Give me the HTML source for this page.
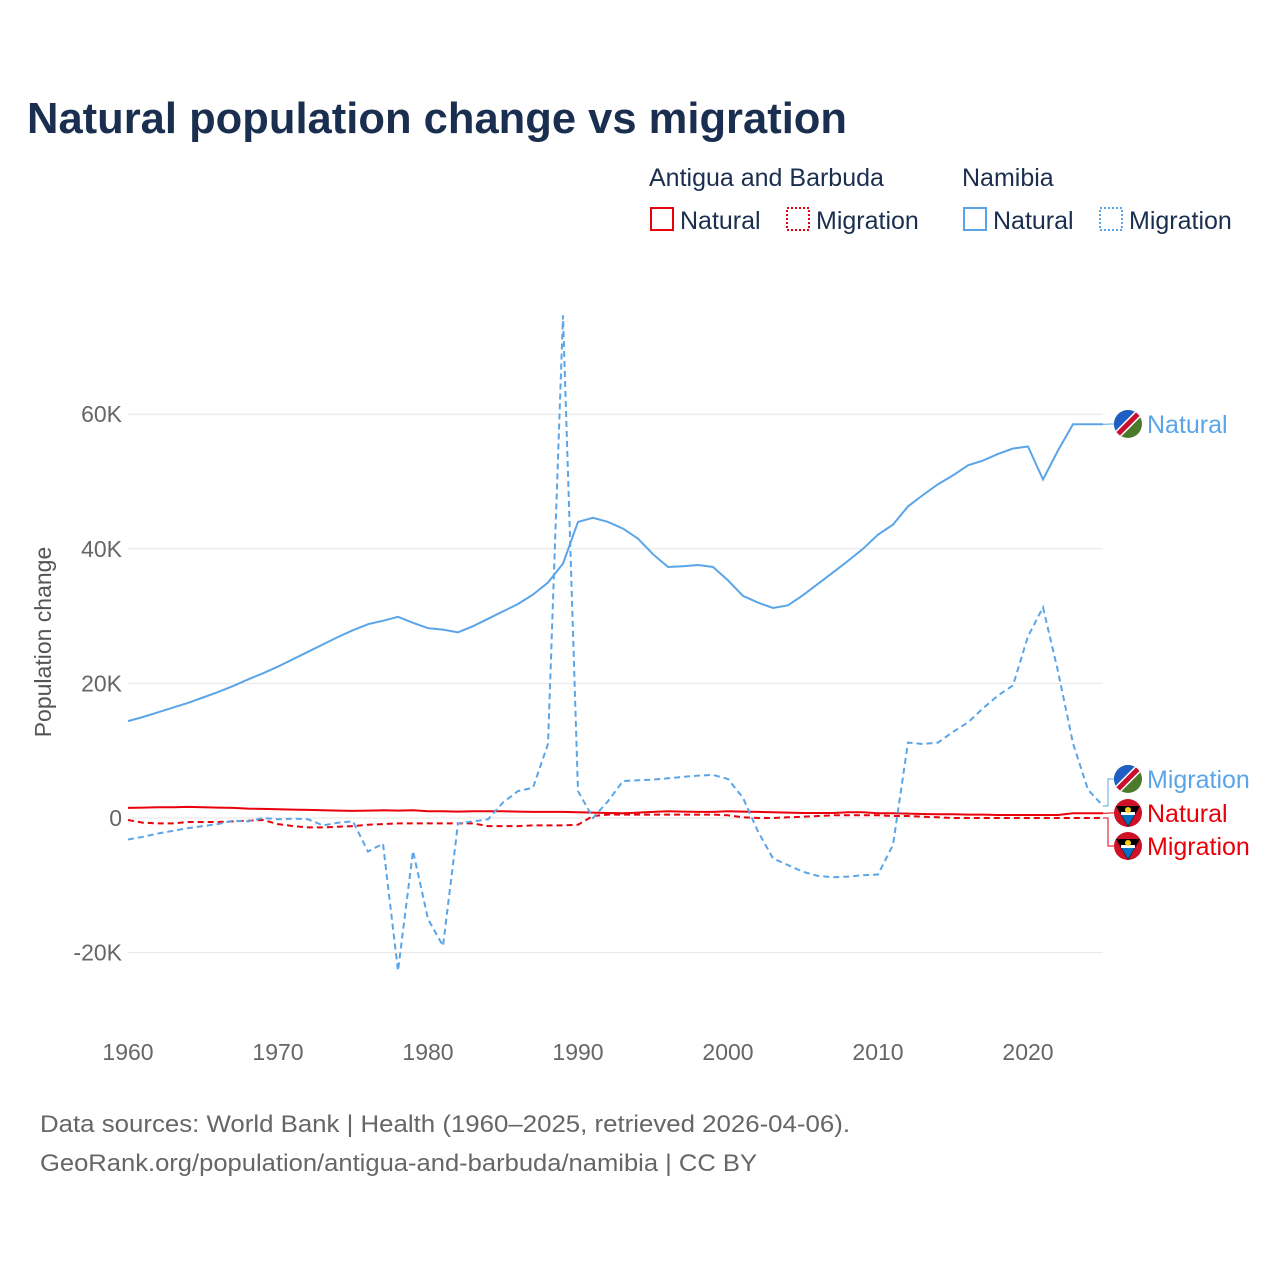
<!DOCTYPE html>
<html><head><meta charset="utf-8"><style>
body{margin:0;background:#fff;font-family:"Liberation Sans",sans-serif}
#wrap{position:relative;width:1280px;height:1280px;overflow:hidden}
</style></head><body>
<div id="wrap">
<svg id="chart" width="1280" height="1280" font-family="Liberation Sans, sans-serif">
<defs><clipPath id="fc"><circle cx="0" cy="0" r="14"/></clipPath></defs>
<text x="27" y="133" font-size="44" font-weight="bold" fill="#1a2e4f" textLength="820" lengthAdjust="spacingAndGlyphs">Natural population change vs migration</text>
<g font-size="25" fill="#1a2e4f">
<text x="649" y="186">Antigua and Barbuda</text>
<text x="962" y="186">Namibia</text>
<g><rect x="651" y="208" width="22" height="22" fill="none" stroke="#e8000b" stroke-width="2"/><text x="680" y="229">Natural</text></g>
<g><rect x="787" y="208" width="22" height="22" fill="none" stroke="#e8000b" stroke-width="2" stroke-dasharray="2,2"/><text x="816" y="229">Migration</text></g>
<g><rect x="964" y="208" width="22" height="22" fill="none" stroke="#5aa5e8" stroke-width="2"/><text x="993" y="229">Natural</text></g>
<g><rect x="1100" y="208" width="22" height="22" fill="none" stroke="#5aa5e8" stroke-width="2" stroke-dasharray="2,2"/><text x="1129" y="229">Migration</text></g>
</g>
<text transform="translate(51,642) rotate(-90)" text-anchor="middle" font-size="23" fill="#555">Population change</text>
<g id="grid"></g><g id="series"></g><g id="labels"></g>
<text x="40" y="1132" font-size="24" fill="#666" textLength="810" lengthAdjust="spacingAndGlyphs">Data sources: World Bank | Health (1960–2025, retrieved 2026-04-06).</text>
<text x="40" y="1171" font-size="24" fill="#666" textLength="717" lengthAdjust="spacingAndGlyphs">GeoRank.org/population/antigua-and-barbuda/namibia | CC BY</text>
</svg></div>
<script>
const years=[];for(let y=1960;y<=2025;y++)years.push(y);
const yTicks=[-20,0,20,40,60];
const yTickLabels=["-20K","0","20K","40K","60K"];
const xTicks=[1960,1970,1980,1990,2000,2010,2020];
const namNatural=[14.4,15,15.7,16.4,17.1,17.9,18.7,19.6,20.6,21.5,22.5,23.6,24.7,25.8,26.9,27.9,28.8,29.3,29.9,29,28.2,28,27.6,28.5,29.6,30.7,31.8,33.2,35,37.8,44,44.6,44,43,41.5,39.2,37.3,37.4,37.6,37.3,35.3,33,32,31.2,31.6,33.1,34.8,36.5,38.2,40,42.1,43.6,46.3,48,49.6,50.9,52.4,53.1,54.1,54.9,55.2,50.3,54.6,58.5,58.5,58.5];
const namMigration=[-3.2,-2.8,-2.3,-1.9,-1.5,-1.2,-0.9,-0.4,-0.5,0,-0.2,-0.1,-0.2,-1.1,-0.7,-0.5,-5,-3.8,-22.7,-4.9,-15,-19,-0.8,-0.5,-0.2,2.3,4,4.5,11,74.7,4,0,2.5,5.5,5.6,5.7,5.9,6.1,6.3,6.4,5.8,3,-2,-6,-7,-8,-8.6,-8.8,-8.7,-8.5,-8.4,-4,11.2,11,11.2,12.8,14.2,16.3,18.2,19.7,27,31.3,21.8,11.1,4.2,1.8];
const antNatural=[1.5,1.55,1.6,1.6,1.65,1.6,1.55,1.5,1.4,1.35,1.3,1.25,1.2,1.15,1.1,1.05,1.1,1.15,1.1,1.15,1,1,0.95,1,1,1,0.95,0.9,0.9,0.9,0.85,0.8,0.75,0.7,0.8,0.9,1,0.95,0.9,0.9,1,0.95,0.9,0.85,0.8,0.75,0.75,0.75,0.85,0.85,0.7,0.7,0.65,0.6,0.55,0.55,0.5,0.5,0.45,0.45,0.45,0.45,0.45,0.7,0.7,0.7];
const antMigration=[-0.3,-0.7,-0.8,-0.8,-0.6,-0.6,-0.6,-0.5,-0.4,-0.3,-0.9,-1.2,-1.4,-1.4,-1.3,-1.2,-1,-0.9,-0.8,-0.8,-0.8,-0.8,-0.8,-0.8,-1.2,-1.2,-1.2,-1.1,-1.1,-1.1,-1,0.3,0.5,0.5,0.5,0.5,0.5,0.5,0.5,0.5,0.4,0.1,0,0,0.1,0.2,0.3,0.4,0.4,0.4,0.4,0.3,0.3,0.2,0.1,0,0,0,0,0,0,0,0,0,0,0];
const NS='http://www.w3.org/2000/svg';
const X=y=>128+(y-1960)*15;
const Y=v=>818-v*6.73;
function mk(t,a,p){const e=document.createElementNS(NS,t);for(const k in a)e.setAttribute(k,a[k]);p.appendChild(e);return e;}
const grid=document.getElementById('grid');
yTicks.forEach((t,i)=>{
 const l=mk('line',{x1:128,x2:1103,y1:Y(t),y2:Y(t),stroke:'#e6e6e6','stroke-width':1},grid);
 
 
 const tx=mk('text',{x:122,y:Y(t)+8,'text-anchor':'end','font-size':23,fill:'#666'},grid);
 tx.textContent=yTickLabels[i];
 
 
});
xTicks.forEach(t=>{
 const tx=mk('text',{x:X(t),y:1060,'text-anchor':'middle','font-size':23,fill:'#666'},grid);
 tx.textContent=t;
 
 
});
const ser=document.getElementById('series');
function line(vals,color,dash,name){
 const d=vals.map((v,i)=>(i?'L':'M')+X(years[i]).toFixed(1)+','+Y(v).toFixed(1)).join('');
 const p=mk('path',{d:d,fill:'none',stroke:color,'stroke-width':2,'stroke-dasharray':dash},ser);
 
 
}
line(antMigration,'#e8000b','6,4','antigua-migration-line');
line(antNatural,'#e8000b','none','antigua-natural-line');
line(namMigration,'#5aa5e8','6,4','namibia-migration-line');
line(namNatural,'#5aa5e8','none','namibia-natural-line');
const lab=document.getElementById('labels');
function endLabel(v,ly,color,text,flag,name){
 const yEnd=Y(v);
 mk('path',{d:`M1103,${yEnd}H1108V${ly}H1114`,fill:'none',stroke:color,'stroke-width':1},lab);
 const g=mk('g',{},lab);
 
 
 const f=mk('g',{transform:`translate(1128,${ly})`,'clip-path':'url(#fc)'},g);
 if(flag==='nam'){
  mk('rect',{x:-14,y:-14,width:28,height:28,fill:'#4a7a2a'},f);
  mk('path',{d:'M-14,-14H14L-14,14Z',fill:'#1f5fc4'},f);
  mk('line',{x1:-14,y1:14,x2:14,y2:-14,stroke:'#fff','stroke-width':8},f);
  mk('line',{x1:-14,y1:14,x2:14,y2:-14,stroke:'#c8102e','stroke-width':5},f);
 }else{
  mk('rect',{x:-14,y:-14,width:28,height:28,fill:'#ce1126'},f);
  mk('path',{d:'M-12,-7H12L0,14Z',fill:'#000'},f);
  mk('path',{d:'M-7,1H7L0,13Z',fill:'#0072c6'},f);
  mk('rect',{x:-7,y:-1,width:14,height:3,fill:'#fff'},f);
  mk('circle',{cx:0,cy:-3,r:3,fill:'#fcd116'},f);
 }
 const t=mk('text',{x:1147,y:ly+9,'font-size':25,fill:color},g);
 t.textContent=text;
}
endLabel(namNatural[65],424,'#5aa5e8','Natural','nam','label-namibia-natural');
endLabel(namMigration[65],779,'#5aa5e8','Migration','nam','label-namibia-migration');
endLabel(antNatural[65],813,'#e8000b','Natural','ant','label-antigua-natural');
endLabel(antMigration[65],846,'#e8000b','Migration','ant','label-antigua-migration');
</script>
</body></html>
